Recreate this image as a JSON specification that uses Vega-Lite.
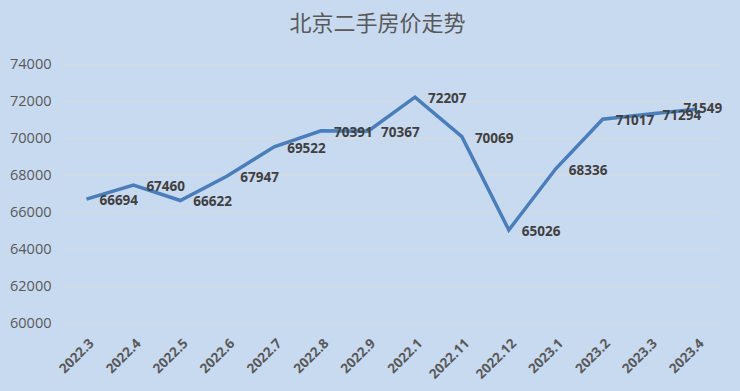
{
  "$schema": "https://vega.github.io/schema/vega-lite/v6.json",
  "width": 657,
  "height": 259,
  "autosize": {"type": "none"},
  "padding": {"left": 63, "top": 64, "right": 20, "bottom": 68},
  "background": "#c8daf0",
  "title": {
    "text": "北京二手房价走势",
    "font": "Noto Sans CJK SC",
    "fontSize": 22,
    "fontWeight": "normal",
    "color": "#595959",
    "anchor": "middle",
    "dx": -14,
    "offset": 20
  },
  "config": {
    "view": {"stroke": null},
    "axis": {"labelFont": "Open Sans", "labelColor": "#595959"}
  },
  "data": {
    "values": [
      {"month": "2022.3", "price": 66694},
      {"month": "2022.4", "price": 67460},
      {"month": "2022.5", "price": 66622},
      {"month": "2022.6", "price": 67947},
      {"month": "2022.7", "price": 69522},
      {"month": "2022.8", "price": 70391},
      {"month": "2022.9", "price": 70367},
      {"month": "2022.1", "price": 72207},
      {"month": "2022.11", "price": 70069},
      {"month": "2022.12", "price": 65026},
      {"month": "2023.1", "price": 68336},
      {"month": "2023.2", "price": 71017},
      {"month": "2023.3", "price": 71294},
      {"month": "2023.4", "price": 71549}
    ]
  },
  "encoding": {
    "x": {
      "field": "month",
      "type": "ordinal",
      "sort": null,
      "scale": {"type": "point", "padding": 0.5},
      "axis": {
        "title": null,
        "labelAngle": -45,
        "labelFontSize": 13.5,
        "labelFontWeight": "bold",
        "ticks": false,
        "domain": false,
        "labelPadding": 13
      }
    },
    "y": {
      "field": "price",
      "type": "quantitative",
      "scale": {"domain": [60000, 74000], "zero": false, "nice": false},
      "axis": {
        "title": null,
        "values": [60000, 62000, 64000, 66000, 68000, 70000, 72000, 74000],
        "format": "d",
        "labelFontSize": 14.5,
        "ticks": false,
        "domain": false,
        "labelPadding": 12,
        "gridColor": "#d9d9d9",
        "gridWidth": 1.2
      }
    }
  },
  "layer": [
    {
      "mark": {"type": "line", "color": "#4a7ebb", "strokeWidth": 3.5}
    },
    {
      "transform": [{"filter": "datum.month != '2023.4'"}],
      "mark": {
        "type": "text",
        "align": "left",
        "baseline": "middle",
        "dx": 13,
        "dy": 2,
        "font": "Open Sans",
        "fontSize": 13.5,
        "fontWeight": "bold",
        "color": "#404040"
      },
      "encoding": {"text": {"field": "price", "type": "quantitative", "format": "d"}}
    },
    {
      "transform": [{"filter": "datum.month == '2023.4'"}],
      "mark": {
        "type": "text",
        "align": "left",
        "baseline": "middle",
        "dx": -13,
        "dy": 0,
        "font": "Open Sans",
        "fontSize": 13.5,
        "fontWeight": "bold",
        "color": "#404040"
      },
      "encoding": {"text": {"field": "price", "type": "quantitative", "format": "d"}}
    }
  ]
}
